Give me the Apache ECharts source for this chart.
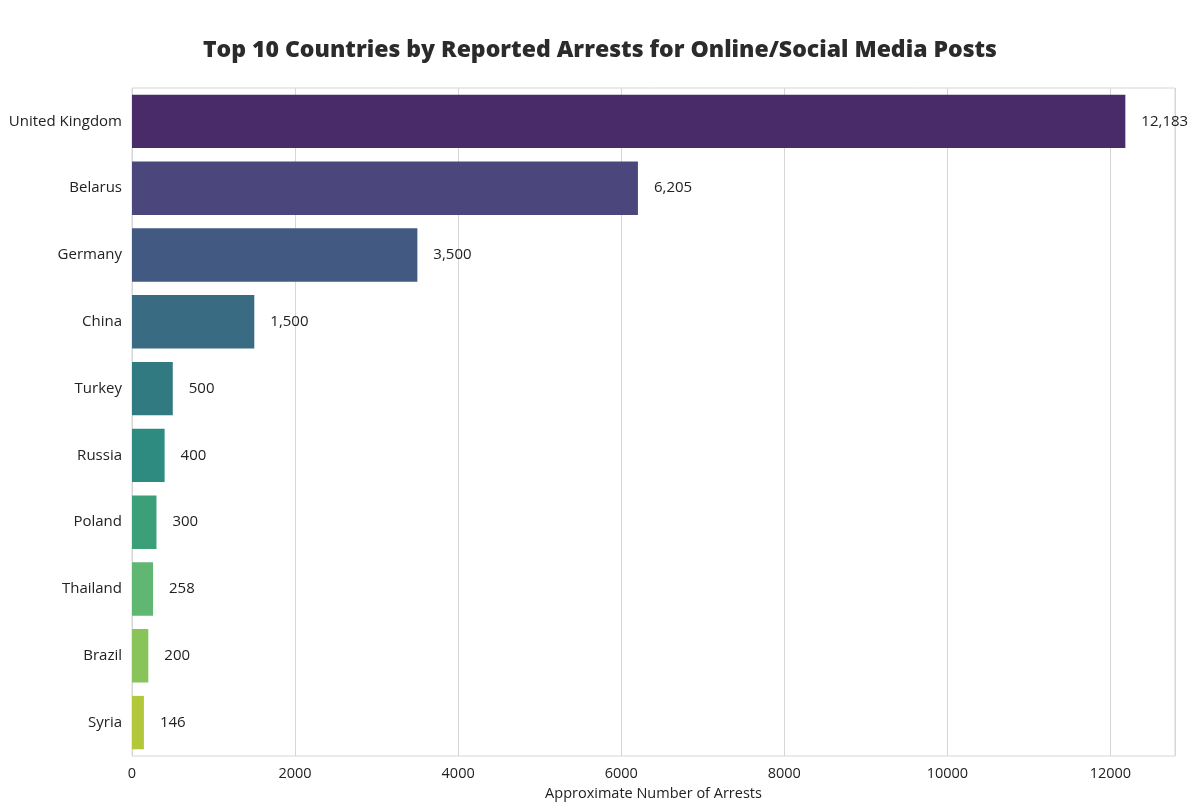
<!DOCTYPE html>
<html>
<head>
<meta charset="utf-8">
<script src="https://cdn.jsdelivr.net/npm/echarts@6/dist/echarts.min.js"></script>
<style>
  html, body { margin: 0; padding: 0; background: #fff; }
  #main { width: 1200px; height: 810px; }
</style>
</head>
<body>
<div id="main"></div>
<script>
// data
var countries = ['United Kingdom', 'Belarus', 'Germany', 'China', 'Turkey', 'Russia', 'Poland', 'Thailand', 'Brazil', 'Syria'];
var arrests = [12183, 6205, 3500, 1500, 500, 400, 300, 258, 200, 146];
var barColors = ['#492b69', '#4b477c', '#425a82', '#396b82', '#327a81', '#2e8b7f', '#3b9f7a', '#60b772', '#88c45a', '#b2c83a'];
var xTicks = [0, 2000, 4000, 6000, 8000, 10000, 12000];

var chart = echarts.init(document.getElementById('main'));

var option = {
    backgroundColor: '#fff',
    title: {
        text: 'Top 10 Countries by Reported Arrests for Online/Social Media Posts',
        left: 'center',
        top: 34,
        textStyle: {
            fontFamily: 'Open Sans',
            fontWeight: 800,
            fontSize: 23,
            color: '#2b2b2b'
        }
    },
    grid: {
        left: 132,
        right: 25,
        top: 88,
        bottom: 54,
        show: true,
        borderColor: '#d6d6d6',
        borderWidth: 1
    },
    xAxis: {
        type: 'value',
        min: 0,
        max: 12792,
        interval: 2000,
        name: 'Approximate Number of Arrests',
        nameLocation: 'middle',
        nameGap: 30,
        nameTextStyle: { fontFamily: 'Open Sans', fontSize: 14.5, color: '#222' },
        axisLine: { show: false },
        axisTick: { show: false },
        axisLabel: {
            fontFamily: 'Open Sans',
            fontSize: 14.5,
            color: '#222',
            margin: 10,
            showMaxLabel: false,
            formatter: function (v) { return xTicks.indexOf(v) >= 0 ? String(v) : ''; }
        },
        splitLine: { show: true, lineStyle: { color: '#d6d6d6', width: 1 } }
    },
    yAxis: {
        type: 'category',
        data: countries,
        inverse: true,
        axisLine: { show: false },
        axisTick: { show: false },
        axisLabel: {
            fontFamily: 'Open Sans',
            fontSize: 15,
            color: '#222',
            margin: 10
        },
        splitLine: { show: false }
    },
    series: [{
        type: 'bar',
        barCategoryGap: '20%',
        data: arrests.map(function (v, i) {
            return { value: v, itemStyle: { color: barColors[i] } };
        }),
        label: {
            show: true,
            position: 'right',
            distance: 16,
            fontFamily: 'Open Sans',
            fontSize: 15,
            color: '#222',
            formatter: function (p) { return p.value.toLocaleString('en-US'); }
        },
        animation: false
    }],
    animation: false
};

chart.setOption(option);
</script>
</body>
</html>
